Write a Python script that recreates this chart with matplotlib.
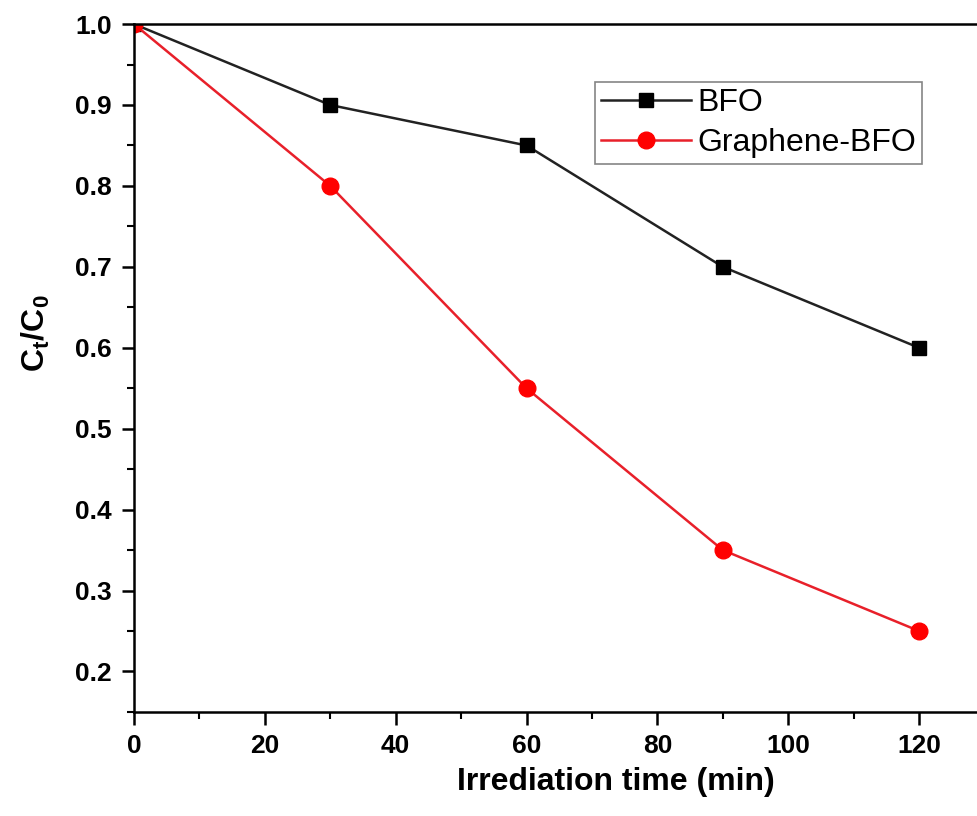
import matplotlib

matplotlib.use("Agg")
import matplotlib.pyplot as plt
from matplotlib.ticker import MultipleLocator

plt.rcParams["font.family"] = ["Liberation Sans", "DejaVu Sans"]
plt.rcParams["mathtext.fontset"] = "custom"
plt.rcParams["mathtext.rm"] = "Liberation Sans"
plt.rcParams["mathtext.bf"] = "Liberation Sans:bold"

# data
time_min = [0, 30, 60, 90, 120]
bfo = [1.0, 0.90, 0.85, 0.70, 0.60]
graphene_bfo = [1.0, 0.80, 0.55, 0.35, 0.25]

fig = plt.figure(figsize=(9.78, 8.16), dpi=100)
ax = fig.add_axes([0.137, 0.1275, 0.863, 0.843])

ax.plot(time_min, bfo, color="#222222", lw=1.8, marker="s", ms=10,
        markerfacecolor="black", markeredgecolor="black", label="BFO")
ax.plot(time_min, graphene_bfo, color="#e8202a", lw=1.8, marker="o", ms=12,
        markerfacecolor="red", markeredgecolor="red", label="Graphene-BFO")

ax.set_xlim(0, 129)
ax.set_ylim(0.15, 1.0)
ax.xaxis.set_major_locator(MultipleLocator(20))
ax.xaxis.set_minor_locator(MultipleLocator(10))
ax.yaxis.set_major_locator(MultipleLocator(0.1))
ax.yaxis.set_minor_locator(MultipleLocator(0.05))
ax.set_yticks([0.2, 0.3, 0.4, 0.5, 0.6, 0.7, 0.8, 0.9, 1.0])

for side in ["left", "bottom", "top"]:
    ax.spines[side].set_linewidth(1.8)
ax.spines["right"].set_visible(False)

ax.tick_params(which="major", direction="out", length=9, width=1.8, pad=7,
               labelsize=19)
ax.tick_params(which="minor", direction="out", length=5, width=1.5)
ax.tick_params(top=False, right=False)
for lab in ax.get_xticklabels() + ax.get_yticklabels():
    lab.set_fontweight("bold")

ax.set_xlabel("Irrediation time (min)", fontsize=23, fontweight="bold")
ax.xaxis.set_label_coords(0.571, -0.08)
ax.set_ylabel(r"$\mathbf{C_t/C_0}$", fontsize=23)
ax.yaxis.set_label_coords(-0.097, 0.55)

leg = ax.legend(loc="upper right", bbox_to_anchor=(0.934, 0.916), borderaxespad=0,
                fontsize=23, frameon=True, fancybox=False, handlelength=2.8,
                handletextpad=0.2, labelspacing=0.3, borderpad=0.2)
leg.get_frame().set_edgecolor("#666666")
leg.get_frame().set_linewidth(1.2)

fig.savefig("out.png", dpi=100)
